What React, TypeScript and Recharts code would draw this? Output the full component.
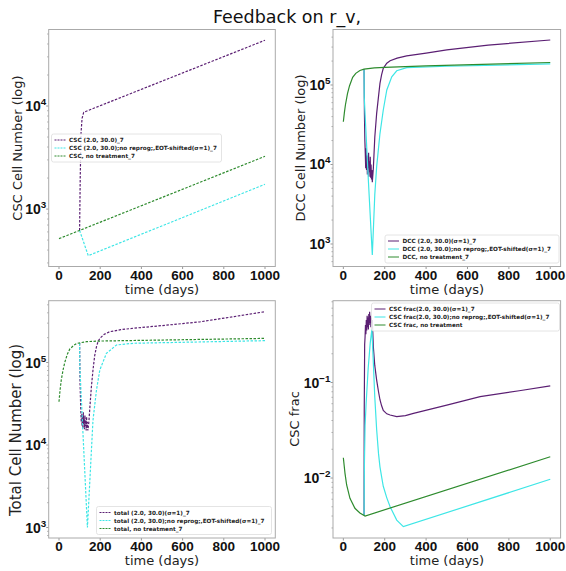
import { LineChart, Line, XAxis, YAxis } from 'recharts'

const W = 566
const H = 571

const PURPLE = '#5b1f73'
const CYAN = '#3ee6e6'
const GREEN = '#2e8b2e'

const timeTicks = [0, 200, 400, 600, 800, 1000]

// CSC cell number
const cscTreatedT = [100, 103, 107, 112, 120, 1000]
const cscTreatedV = [620, 2000, 5500, 7600, 8700, 43500]
const cscNoReprogT = [100, 142, 1000]
const cscNoReprogV = [620, 353, 1740]
const cscUntreatedT = [0, 1000]
const cscUntreatedV = [516, 3250]

// DCC cell number
const dccTreatedT = [100, 102, 104, 106, 108, 110, 112, 114, 116, 118, 120, 122, 124, 126, 128, 130, 132, 134, 136, 138, 140,
  145, 152, 161, 170, 177, 185, 193, 210, 226, 260, 306, 400, 500, 700, 1000]
const dccTreatedV = [158000, 42000, 20000, 14000, 9000, 16000, 8500, 13000, 7500, 12000, 9000, 14000, 7000, 11000, 8000, 12500, 6800, 10000, 6500, 8500, 6000,
  9000, 22000, 44000, 72000, 105000, 135000, 162000, 188000, 202000, 218000, 232000, 252000, 276000, 318000, 368000]
const dccNoReprogT = [100, 101, 120, 140, 145, 152, 161, 177, 193, 210, 234, 258, 306, 500, 1000]
const dccNoReprogV = [158000, 70000, 7000, 725, 1500, 4200, 9400, 24500, 48500, 86500, 127000, 151000, 165000, 172000, 184000]
const dccUntreatedT = [0, 5, 10, 20, 30, 45, 60, 80, 100, 150, 200, 400, 1000]
const dccUntreatedV = [34500, 45000, 56000, 78000, 98000, 125000, 140000, 152000, 158000, 164000, 167000, 174000, 192000]

// total cell number
const totTreatedT = [100, 102, 104, 106, 108, 110, 112, 114, 116, 118, 120, 122, 124, 126, 128, 130, 132, 134, 136, 138, 140,
  145, 150, 157, 165, 173, 182, 190, 198, 220, 246, 300, 360, 500, 684, 850, 1000]
const totTreatedV = [172000, 61000, 38000, 26000, 19000, 24000, 17000, 22000, 16000, 25000, 18000, 21000, 15500, 23000, 17000, 20000, 15000, 22000, 16000, 19000, 15000,
  19000, 29000, 50000, 81000, 120000, 156000, 180000, 196000, 220000, 236000, 250000, 260000, 280000, 311000, 360000, 413000]
const totNoReprogT = [100, 101, 138, 150, 165, 182, 198, 230, 279, 360, 1000]
const totNoReprogV = [172000, 90000, 1000, 3800, 20000, 46400, 81000, 129000, 163000, 171000, 184000]
const totUntreatedT = [0, 5, 11, 20, 28, 40, 52, 70, 85, 133, 198, 1000]
const totUntreatedV = [33500, 46000, 61400, 82000, 100000, 125000, 145000, 160000, 170000, 179000, 182000, 196000]

// CSC fraction
const fracTreatedT = [100, 101, 103, 105, 107, 109, 111, 113, 115, 117, 119, 121, 123, 125, 127, 129, 131, 133, 135, 137, 140,
  145, 152, 161, 170, 177, 185, 193, 210, 226, 258, 300, 339, 500, 661, 850, 1000]
const fracTreatedV = [0.0041, 0.05, 0.25, 0.3, 0.4, 0.32, 0.45, 0.35, 0.5, 0.38, 0.48, 0.36, 0.52, 0.4, 0.55, 0.42, 0.5, 0.38, 0.48, 0.42, 0.45,
  0.237, 0.15, 0.106, 0.08, 0.066, 0.057, 0.051, 0.047, 0.0457, 0.0439, 0.045, 0.0475, 0.058, 0.071, 0.082, 0.092]
const fracNoReprogT = [100, 102, 105, 110, 120, 130, 138, 145, 152, 161, 170, 177, 185, 193, 210, 226, 258, 290, 1000]
const fracNoReprogV = [0.0041, 0.015, 0.035, 0.06, 0.14, 0.26, 0.36, 0.16, 0.07, 0.032, 0.018, 0.0131, 0.0103, 0.0082, 0.0062, 0.005, 0.00363, 0.0031, 0.0097]
const fracUntreatedT = [0, 8, 16, 32, 56, 80, 105, 1000]
const fracUntreatedV = [0.0163, 0.0112, 0.00845, 0.00613, 0.00482, 0.0043, 0.004, 0.0167]

const cscLabels = ['CSC (2.0, 30.0)_7', 'CSC (2.0, 30.0);no reprog;,EOT-shifted(σ=1)_7', 'CSC, no treatment_7']
const dccLabels = ['DCC (2.0, 30.0)(σ=1)_7', 'DCC (2.0, 30.0);no reprog;,EOT-shifted(σ=1)_7', 'DCC, no treatment_7']
const totLabels = ['total (2.0, 30.0)(σ=1)_7', 'total (2.0, 30.0);no reprog;,EOT-shifted(σ=1)_7', 'total, no treatment_7']
const fracLabels = ['CSC frac(2.0, 30.0)(σ=1)_7', 'CSC frac(2.0, 30.0);no reprog;,EOT-shifted(σ=1)_7', 'CSC frac, no treatment']

type Pt = { t: number; v: number }
const zip = (ts: number[], vs: number[]): Pt[] => ts.map((t, i) => ({ t, v: vs[i] }))

function logTicks(lo: number, hi: number) {
  const out: number[] = []
  for (let e = Math.floor(Math.log10(lo)); e <= Math.ceil(Math.log10(hi)); e++) {
    for (let m = 1; m < 10; m++) {
      const v = m * Math.pow(10, e)
      if (v >= lo && v <= hi) out.push(v)
    }
  }
  return out
}

const isMajor = (v: number) => Math.abs(Math.log10(v) - Math.round(Math.log10(v))) < 1e-6

const TICK_FONT = 'Liberation Sans, Arial, sans-serif'
const LABEL_FONT = 'DejaVu Sans, sans-serif'

function XTick(props: any) {
  const { x, y, payload } = props
  return (
    <g>
      <line x1={x} x2={x} y1={y} y2={y + 2.5} stroke='#999' />
      <text x={x} y={y + 13} textAnchor='middle' fontFamily={TICK_FONT} fontWeight='bold' fontSize={13.5} fill='#111'>
        {payload.value}
      </text>
    </g>
  )
}

function YTick(props: any) {
  const { x, y, payload } = props
  const v = payload.value
  if (!isMajor(v)) {
    return <line x1={x} x2={x - 1.5} y1={y} y2={y} stroke='#aaa' />
  }
  const e = Math.round(Math.log10(v))
  return (
    <g>
      <line x1={x} x2={x - 2.5} y1={y} y2={y} stroke='#999' />
      <text x={x - 2.5} y={y + 5} textAnchor='end' fontFamily={TICK_FONT} fontWeight='bold' fontSize={14} fill='#111'>
        10<tspan dy={-6} fontSize={9.8}>{e < 0 ? '\u2212' + -e : e}</tspan>
      </text>
    </g>
  )
}

type Series = { data: Pt[]; color: string }

function Panel({ box, yDomain, series, dashed }: { box: number[]; yDomain: [number, number]; series: Series[]; dashed: boolean }) {
  const [x0, y0, x1, y1] = box
  // axes take 1px each, so the plot box lands exactly on `box`
  return (
    <div style={{ position: 'absolute', left: 0, top: 0 }}>
      <LineChart width={W} height={H} margin={{ top: y0, left: x0 - 1, right: W - x1, bottom: H - y1 - 1 }}>
        <XAxis type='number' dataKey='t' domain={[-50, 1050]} ticks={timeTicks} allowDataOverflow height={1}
          axisLine={false} tickLine={false} tickSize={0} tickMargin={0} interval={0} tick={XTick} />
        <YAxis type='number' scale='log' domain={yDomain} allowDataOverflow ticks={logTicks(yDomain[0], yDomain[1])} width={1}
          axisLine={false} tickLine={false} tickSize={0} tickMargin={0} interval={0} tick={YTick} />
        {series.map((s, i) => (
          <Line key={i} data={s.data} dataKey='v' type='linear' stroke={s.color} strokeWidth={1.2} dot={false}
            strokeDasharray={dashed ? '2.5 1.5' : undefined} isAnimationActive={false} />
        ))}
      </LineChart>
    </div>
  )
}

function LegendBox({ x, y, w, labels, dashed }: { x: number; y: number; w: number; labels: string[]; dashed: boolean }) {
  const colors = [PURPLE, CYAN, GREEN]
  return (
    <g>
      <rect x={x} y={y} width={w} height={28} rx={2} fill='rgba(255,255,255,0.85)' stroke='#ddd' strokeWidth={0.8} />
      {labels.map((l, i) => (
        <g key={i}>
          <line x1={x + 3} x2={x + 14} y1={y + 6 + i * 8} y2={y + 6 + i * 8} stroke={colors[i]} strokeWidth={1}
            strokeDasharray={dashed ? '2 1' : undefined} />
          <text x={x + 17.5} y={y + 8 + i * 8} fontFamily={LABEL_FONT} fontWeight='bold' fontSize={5.7} fill='#222'>{l}</text>
        </g>
      ))}
    </g>
  )
}

const boxTL = [48.7, 29.5, 275.3, 266.5]
const boxTR = [333, 29.5, 560.6, 266.5]
const boxBL = [48.7, 300.7, 275.3, 538]
const boxBR = [333, 300.7, 560.6, 538]

export default function App() {
  const frames = [boxTL, boxTR, boxBL, boxBR]
  return (
    <div style={{ position: 'absolute', left: 0, top: 0, width: W, height: H, background: '#fff', overflow: 'hidden' }}>
      <Panel box={boxTL} yDomain={[277, 55300]} dashed series={[
        { data: zip(cscTreatedT, cscTreatedV), color: PURPLE },
        { data: zip(cscNoReprogT, cscNoReprogV), color: CYAN },
        { data: zip(cscUntreatedT, cscUntreatedV), color: GREEN },
      ]} />
      <Panel box={boxTR} yDomain={[521, 499000]} dashed={false} series={[
        { data: zip(dccTreatedT, dccTreatedV), color: PURPLE },
        { data: zip(dccNoReprogT, dccNoReprogV), color: CYAN },
        { data: zip(dccUntreatedT, dccUntreatedV), color: GREEN },
      ]} />
      <Panel box={boxBL} yDomain={[747, 561000]} dashed series={[
        { data: zip(totTreatedT, totTreatedV), color: PURPLE },
        { data: zip(totNoReprogT, totNoReprogV), color: CYAN },
        { data: zip(totUntreatedT, totUntreatedV), color: GREEN },
      ]} />
      <Panel box={boxBR} yDomain={[0.002355, 0.7186]} dashed={false} series={[
        { data: zip(fracTreatedT, fracTreatedV), color: PURPLE },
        { data: zip(fracNoReprogT, fracNoReprogV), color: CYAN },
        { data: zip(fracUntreatedT, fracUntreatedV), color: GREEN },
      ]} />
      <svg width={W} height={H} style={{ position: 'absolute', left: 0, top: 0, pointerEvents: 'none' }}>
        {frames.map((b, i) => (
          <rect key={i} x={b[0]} y={b[1]} width={b[2] - b[0]} height={b[3] - b[1]} fill='none' stroke='#aaa' strokeWidth={1} />
        ))}
        <text x={287} y={23} textAnchor='middle' fontFamily={LABEL_FONT} fontSize={17.5} fill='#111'>Feedback on r_v,</text>
        <g fontFamily={LABEL_FONT} fontSize={13} fill='#222' textAnchor='middle' dominantBaseline='central'>
          <text transform='translate(17,148) rotate(-90)'>CSC Cell Number (log)</text>
          <text transform='translate(300,148) rotate(-90)'>DCC Cell Number (log)</text>
          <text transform='translate(16,430) rotate(-90)' fontSize={15}>Total Cell Number (log)</text>
          <text transform='translate(294,419) rotate(-90)'>CSC frac</text>
          <text x={162} y={289.5}>time (days)</text>
          <text x={447} y={289.5}>time (days)</text>
          <text x={162} y={560}>time (days)</text>
          <text x={447} y={560}>time (days)</text>
        </g>
        <LegendBox x={51.5} y={134} w={170} labels={cscLabels} dashed />
        <LegendBox x={385} y={235} w={174} labels={dccLabels} dashed={false} />
        <LegendBox x={96.5} y={506.5} w={175} labels={totLabels} dashed />
        <LegendBox x={371.5} y={303} w={188} labels={fracLabels} dashed={false} />
      </svg>
    </div>
  )
}
